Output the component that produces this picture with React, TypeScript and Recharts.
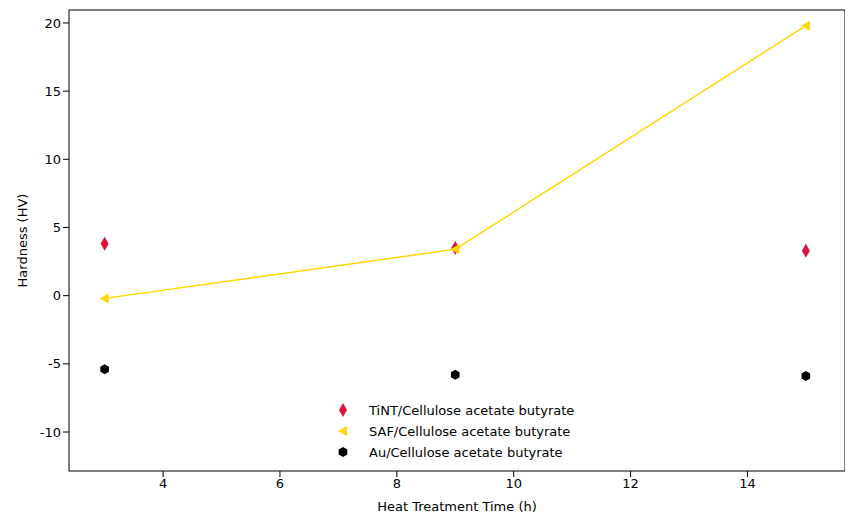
import React from 'react';
import { ComposedChart, Line, Scatter, XAxis, YAxis } from 'recharts';

const times = [3, 9, 15];
const tint = [3.8, 3.5, 3.3];
const saf = [-0.2, 3.4, 19.8];
const au = [-5.4, -5.8, -5.9];
const xTicks = [4, 6, 8, 10, 12, 14];
const yTicks = [-10, -5, 0, 5, 10, 15, 20];

const data = times.map((t, i) => ({ t, tint: tint[i], saf: saf[i], au: au[i] }));

const Diamond = (p: any) => (
  <path d={`M${p.cx},${p.cy - 7} L${p.cx + 4},${p.cy} L${p.cx},${p.cy + 7} L${p.cx - 4},${p.cy} Z`} fill="#dc143c" />
);
const TriLeft = (p: any) => (
  <path d={`M${p.cx - 5},${p.cy} L${p.cx + 4},${p.cy - 5} L${p.cx + 4},${p.cy + 5} Z`} fill="#ffd700" />
);
const Hex = (p: any) => {
  const r = 5;
  const pts = [0, 1, 2, 3, 4, 5].map(k => {
    const a = (Math.PI / 3) * k + Math.PI / 6;
    return `${p.cx + r * Math.cos(a)},${p.cy + r * Math.sin(a)}`;
  }).join(' ');
  return <polygon points={pts} fill="#000" />;
};

const legendItems = [
  { label: 'TiNT/Cellulose acetate butyrate', Shape: Diamond },
  { label: 'SAF/Cellulose acetate butyrate', Shape: TriLeft },
  { label: 'Au/Cellulose acetate butyrate', Shape: Hex },
];

export default function App() {
  return (
    <div style={{ fontFamily: 'DejaVu Sans', position: 'relative' }}>
      <ComposedChart width={853} height={517} data={data} margin={{ top: 2, right: 16, bottom: 14, left: 0 }}>
        <rect x={61} y={2} width={776} height={461} fill="none" stroke="#000" strokeWidth={1} />
        <XAxis dataKey="t" type="number" domain={[2.39, 15.67]} ticks={xTicks} allowDataOverflow
          height={40} tick={{ fontSize: 13, fill: '#000' }} tickLine={{ stroke: '#000' }} axisLine={false}
          label={{ value: 'Heat Treatment Time (h)', position: 'insideBottom', offset: 0, fontSize: 13, fill: '#000' }} />
        <YAxis type="number" domain={[-12.86, 20.95]} ticks={yTicks} allowDataOverflow width={61}
          tick={{ fontSize: 13, fill: '#000' }} tickLine={{ stroke: '#000' }} axisLine={false}
          label={{ value: 'Hardness (HV)', angle: -90, position: 'insideLeft', offset: 14, fontSize: 13, fill: '#000', style: { textAnchor: 'middle' } }} />
        <Scatter dataKey="tint" fill="#dc143c" shape={Diamond} isAnimationActive={false} />
        <Line dataKey="saf" stroke="#ffd700" strokeWidth={1.5} dot={TriLeft as any} activeDot={false} isAnimationActive={false} />
        <Scatter dataKey="au" fill="#000" shape={Hex} isAnimationActive={false} />
      </ComposedChart>
      <svg width={300} height={66} style={{ position: 'absolute', left: 325, top: 390 }}>
        {legendItems.map((it, i) => (
          <g key={i}>
            <it.Shape cx={10} cy={12 + i * 21} />
            <text x={36} y={17 + i * 21} fontSize={13} fill="#000">{it.label}</text>
          </g>
        ))}
      </svg>
    </div>
  );
}
